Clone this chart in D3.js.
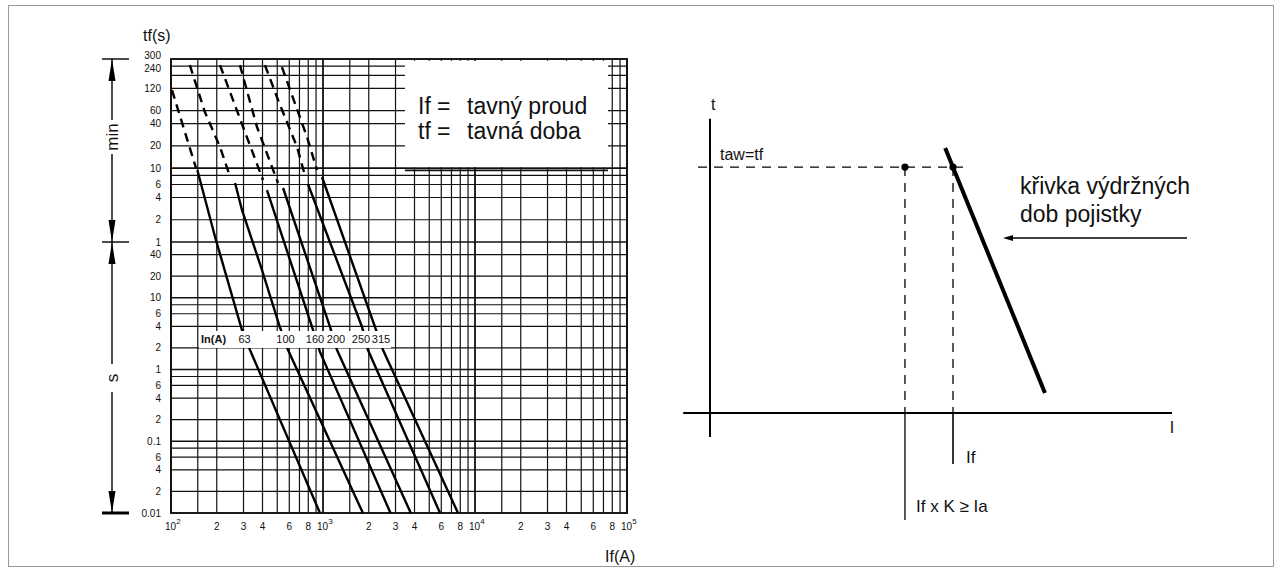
<!DOCTYPE html>
<html>
<head>
<meta charset="utf-8">
<script src="https://cdn.jsdelivr.net/npm/d3@7"></script>
<style>
  body { margin: 0; background: #fff; }
  svg { display: block; }
  text { font-family: "Liberation Sans", Arial, Helvetica, sans-serif; fill: #111; }
</style>
</head>
<body>
<svg id="chart" width="1282" height="578"></svg>
<script>
// ---- fuse melting characteristics (current in A, melting time in s) ----
const fuseRatings = [63, 100, 160, 200, 250, 315];

// dashed upper branch of each curve
const dashedCurrent = [
  [101.5, 146],
  [133, 167, 210, 245],
  [210, 298, 403],
  [284, 368, 506],
  [415, 506, 675, 762],
  [537, 785, 913]
];
const dashedTime = [
  [6840, 602],
  [14900, 3450, 1160, 455],
  [14900, 2160, 414],
  [14900, 2160, 377],
  [14900, 5015, 1160, 469],
  [14000, 1580, 566]
];

// solid lower branch of each curve
const solidCurrent = [
  [149, 195, 293, 331, 955],
  [264, 293, 397, 520, 589, 1830],
  [428, 847, 955, 2780],
  [546, 1112, 1237, 3780],
  [796, 1806, 1977, 5888],
  [985, 2198, 2483, 7730]
];
const solidTime = [
  [566, 70, 3.56, 1.87, 0.01],
  [377, 163, 24.4, 3.92, 1.87, 0.01],
  [303, 3.92, 1.76, 0.01],
  [323, 3.92, 1.87, 0.01],
  [366, 3.92, 1.87, 0.01],
  [455, 3.92, 1.87, 0.01]
];

// time axis (seconds) and its printed labels
const timeTicks = [0.01, 0.02, 0.04, 0.06, 0.1, 0.2, 0.4, 0.6, 1, 2, 4, 6, 10, 20, 40,
                   60, 120, 240, 360, 600, 1200, 2400, 3600, 7200, 14400, 18000];
const timeTickLabels = ["0.01", "2", "4", "6", "0.1", "2", "4", "6", "1", "2", "4", "6", "10", "20", "40",
                        "1", "2", "4", "6", "10", "20", "40", "60", "120", "240", "300"];
const extraTimeLines = [0.08, 0.8, 8, 480, 10800];

// current axis
const currentDecades = [100, 1000, 10000, 100000];
const decadeExponents = ["2", "3", "4", "5"];
const gridMultipliers = [1, 1.5, 2, 3, 4, 5, 6, 7, 8, 9];
const labelMultipliers = [2, 3, 4, 6, 8];

// schematic on the right (relative units 0..100)
const tLevel = 86.9;          // taw = tf
const iaK = 42.2;             // If x K
const iF = 52.6;              // If
const withstandX = [50.9, 72.5];
const withstandY = [93.6, 7.1];

const svg = d3.select("#chart");

// outer frame
svg.append("rect").attr("x", 8.5).attr("y", 5.5).attr("width", 1265).attr("height", 561)
  .attr("fill", "none").attr("stroke", "#9a9a9a").attr("stroke-width", 1);

// ---------------- left: log-log melting chart ----------------
const x = d3.scaleLog().domain([100, 100000]).range([171, 627]);
const y = d3.scaleLog().domain([0.01, 60, 18000]).range([513, 242, 59]);

const grid = svg.append("g").attr("stroke", "#111");

// vertical grid
const vLines = [];
currentDecades.slice(0, 3).forEach(d => gridMultipliers.forEach(m => vLines.push(d * m)));
vLines.push(100000);
grid.selectAll("line.v").data(vLines).join("line")
  .attr("class", "v")
  .attr("x1", d => x(d)).attr("x2", d => x(d))
  .attr("y1", y(18000)).attr("y2", y(0.01))
  .attr("stroke-width", d => currentDecades.includes(d) ? 1.8 : 1.2);

// horizontal grid
const hLines = timeTicks.concat(extraTimeLines);
grid.selectAll("line.h").data(hLines).join("line")
  .attr("class", "h")
  .attr("x1", x(100)).attr("x2", x(100000))
  .attr("y1", d => y(d)).attr("y2", d => y(d))
  .attr("stroke-width", d => (d === 60 || d === 600 || d === 10 || d === 1 || d === 0.1) ? 1.6 : 1.2);

// plot frame
svg.append("rect")
  .attr("x", x(100)).attr("y", y(18000))
  .attr("width", x(100000) - x(100)).attr("height", y(0.01) - y(18000))
  .attr("fill", "none").attr("stroke", "#111").attr("stroke-width", 1.8);

// legend panel
const legend = svg.append("g");
legend.append("rect").attr("x", x(3460)).attr("y", y(17000))
  .attr("width", x(75000) - x(3460)).attr("height", y(620) - y(17000))
  .attr("fill", "#fff");
legend.append("line").attr("x1", x(3460)).attr("x2", x(75000))
  .attr("y1", y(560)).attr("y2", y(560)).attr("stroke", "#111").attr("stroke-width", 1.6);
[["If", "tavný proud", 114], ["tf", "tavná doba", 139]].forEach(([a, b, yy]) => {
  legend.append("text").attr("x", 418).attr("y", yy).attr("font-size", 23).text(a);
  legend.append("text").attr("x", 437).attr("y", yy).attr("font-size", 23).text("=");
  legend.append("text").attr("x", 467).attr("y", yy).attr("font-size", 23).text(b);
});

// curves
const line = d3.line().x(d => x(d[0])).y(d => y(d[1]));
const curves = svg.append("g").attr("fill", "none").attr("stroke", "#000").attr("stroke-width", 2.4);
fuseRatings.forEach((r, i) => {
  const dPts = dashedCurrent[i].map((c, k) => [c, dashedTime[i][k]]);
  const sPts = solidCurrent[i].map((c, k) => [c, solidTime[i][k]]);
  curves.append("path").attr("d", line(dPts)).attr("stroke-dasharray", "9,6");
  curves.append("path").attr("d", line(sPts));
});

// rating labels band
const band = svg.append("g");
band.append("rect").attr("x", 199).attr("y", 331).attr("width", 192).attr("height", 17).attr("fill", "#fff");
const ratingLabelX = [244.5, 285.5, 315, 336, 361, 381];
band.append("text").attr("x", 201).attr("y", 343).attr("font-size", 11).attr("font-weight", "bold").text("In(A)");
band.selectAll("text.r").data(fuseRatings).join("text").attr("class", "r")
  .attr("x", (d, i) => ratingLabelX[i]).attr("y", 343)
  .attr("text-anchor", "middle").attr("font-size", 11).text(d => d);

// y tick labels (top two are nudged apart as printed)
const tickNudge = d => d === 18000 ? -0.5 : d === 14400 ? 6 : 3.5;
svg.append("g").selectAll("text").data(timeTicks).join("text")
  .attr("x", 161).attr("y", d => y(d) + tickNudge(d))
  .attr("text-anchor", "end").attr("font-size", 10)
  .text((d, i) => timeTickLabels[i]);

// x tick labels
const xLab = svg.append("g");
currentDecades.forEach((d, i) => {
  const t = xLab.append("text").attr("x", x(d) - 6).attr("y", 530).attr("font-size", 10);
  t.append("tspan").text("10");
  t.append("tspan").attr("dy", -6).attr("font-size", 8).text(decadeExponents[i]);
});
currentDecades.slice(0, 3).forEach(d => {
  xLab.selectAll(null).data(labelMultipliers).join("text")
    .attr("x", m => x(d * m)).attr("y", 530)
    .attr("text-anchor", "middle").attr("font-size", 10).text(m => m);
});

// axis titles
svg.append("text").attr("x", 143).attr("y", 41).attr("font-size", 16).text("tf(s)");
svg.append("text").attr("x", 605).attr("y", 562).attr("font-size", 16).text("If(A)");

// min / s range markers
const mk = svg.append("g").attr("stroke", "#000").attr("fill", "#000");
const ax = 112;
[[y(18000), 1.4], [y(60), 1.4], [y(0.01), 3]].forEach(([yy, w]) => {
  mk.append("line").attr("x1", 102).attr("x2", 129).attr("y1", yy).attr("y2", yy).attr("stroke-width", w);
});
function arrow(tipY, dir) {
  // dir: -1 pointing up, +1 pointing down
  mk.append("path").attr("stroke", "none")
    .attr("d", `M${ax},${tipY} L${ax - 3.5},${tipY - dir * 22} L${ax + 3.5},${tipY - dir * 22} Z`);
}
mk.append("line").attr("x1", ax).attr("x2", ax).attr("y1", y(18000)).attr("y2", 120).attr("stroke-width", 1.4);
mk.append("line").attr("x1", ax).attr("x2", ax).attr("y1", 154).attr("y2", y(60)).attr("stroke-width", 1.4);
mk.append("line").attr("x1", ax).attr("x2", ax).attr("y1", y(60)).attr("y2", 364).attr("stroke-width", 1.4);
mk.append("line").attr("x1", ax).attr("x2", ax).attr("y1", 392).attr("y2", y(0.01)).attr("stroke-width", 1.4);
arrow(y(18000), -1);
arrow(y(60), 1);
arrow(y(60), -1);
arrow(y(0.01), 1);
svg.append("text").attr("transform", `translate(${ax + 6},137) rotate(-90)`)
  .attr("text-anchor", "middle").attr("font-size", 17).text("min");
svg.append("text").attr("transform", `translate(${ax + 6},378) rotate(-90)`)
  .attr("text-anchor", "middle").attr("font-size", 17).text("s");

// ---------------- right: schematic ----------------
const sx = d3.scaleLinear().domain([0, 100]).range([710, 1172]);
const sy = d3.scaleLinear().domain([0, 100]).range([413, 130]);
const sch = svg.append("g").attr("stroke", "#000").attr("fill", "none");

// axes
sch.append("line").attr("x1", sx(-5.8)).attr("x2", sx(100)).attr("y1", sy(0)).attr("y2", sy(0)).attr("stroke-width", 2);
sch.append("line").attr("x1", sx(0)).attr("x2", sx(0)).attr("y1", sy(104)).attr("y2", sy(-8.5)).attr("stroke-width", 2);

// dashed guides
sch.append("line").attr("x1", sx(-2.6)).attr("x2", sx(55.5)).attr("y1", sy(tLevel)).attr("y2", sy(tLevel))
  .attr("stroke-width", 1.3).attr("stroke-dasharray", "9,7");
[iaK, iF].forEach(v => {
  sch.append("line").attr("x1", sx(v)).attr("x2", sx(v)).attr("y1", sy(tLevel)).attr("y2", sy(0))
    .attr("stroke-width", 1.3).attr("stroke-dasharray", "9,7");
});
sch.append("line").attr("x1", sx(iaK)).attr("x2", sx(iaK)).attr("y1", sy(0)).attr("y2", sy(-37.8)).attr("stroke-width", 1.3);
sch.append("line").attr("x1", sx(iF)).attr("x2", sx(iF)).attr("y1", sy(0)).attr("y2", sy(-18)).attr("stroke-width", 1.6);

// withstand curve
sch.append("line").attr("x1", sx(withstandX[0])).attr("y1", sy(withstandY[0]))
  .attr("x2", sx(withstandX[1])).attr("y2", sy(withstandY[1])).attr("stroke-width", 4);

// points
[iaK, iF].forEach(v => {
  svg.append("circle").attr("cx", sx(v)).attr("cy", sy(tLevel)).attr("r", 3.6).attr("fill", "#000");
});

// arrow pointing to the curve
sch.append("line").attr("x1", 1187).attr("x2", 1010).attr("y1", 238).attr("y2", 238).attr("stroke-width", 1.6);
svg.append("path").attr("d", "M1003,238 L1013,235 L1013,241 Z").attr("fill", "#000");

// texts
svg.append("text").attr("x", 711).attr("y", 110).attr("font-size", 16).text("t");
svg.append("text").attr("x", 1172).attr("y", 433).attr("text-anchor", "middle").attr("font-size", 16).text("I");
svg.append("text").attr("x", 720).attr("y", 160).attr("font-size", 16).text("taw=tf");
svg.append("text").attr("x", 966).attr("y", 463).attr("font-size", 17).text("If");
svg.append("text").attr("x", 916).attr("y", 512).attr("font-size", 17).text("If x K ≥  Ia");
svg.append("text").attr("x", 1020).attr("y", 194).attr("font-size", 23).text("křivka výdržných");
svg.append("text").attr("x", 1020).attr("y", 222).attr("font-size", 23).text("dob pojistky");
</script>
</body>
</html>
